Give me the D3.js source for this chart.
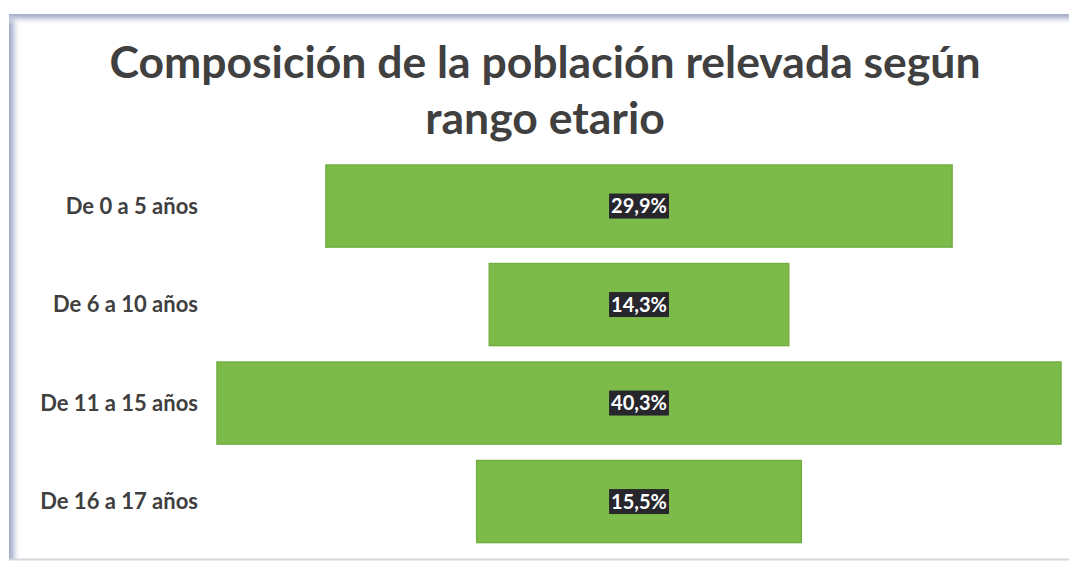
<!DOCTYPE html>
<html>
<head>
<meta charset="utf-8">
<script src="https://cdn.jsdelivr.net/npm/d3@7"></script>
<style>
  html, body { margin: 0; padding: 0; background: #fff; }
  svg { display: block; }
  text { font-family: Lato, "Open Sans", sans-serif; font-weight: 700; }
</style>
</head>
<body>
<svg id="chart" width="1069" height="562"></svg>
<script>
// Composición de la población relevada según rango etario

// -----------------------------------------------------------------------------
// DATA
// -----------------------------------------------------------------------------

const titleLines = ['Composición de la población relevada según', 'rango etario'];
const categories = ['De 0 a 5 años', 'De 6 a 10 años', 'De 11 a 15 años', 'De 16 a 17 años'];
const values = [29.9, 14.3, 40.3, 15.5];
const valueLabels = ['29,9%', '14,3%', '40,3%', '15,5%'];

// -----------------------------------------------------------------------------
// LAYOUT
// -----------------------------------------------------------------------------

const W = 1069, H = 562;
const centerX = 639;
const svg = d3.select('#chart');

const defs = svg.append('defs');
const gl = defs.append('linearGradient').attr('id', 'fadeLeft').attr('x1', 0).attr('x2', 1);
gl.append('stop').attr('offset', 0).attr('stop-color', '#a3aac8');
gl.append('stop').attr('offset', 0.3).attr('stop-color', '#bfc5da');
gl.append('stop').attr('offset', 1).attr('stop-color', '#ffffff').attr('stop-opacity', 0);
const gt = defs.append('linearGradient').attr('id', 'fadeTop').attr('x1', 0).attr('x2', 0).attr('y1', 0).attr('y2', 1);
gt.append('stop').attr('offset', 0).attr('stop-color', '#a3aac8');
gt.append('stop').attr('offset', 0.3).attr('stop-color', '#bfc5da');
gt.append('stop').attr('offset', 1).attr('stop-color', '#ffffff').attr('stop-opacity', 0);

// chart frame (shadowed border like the pasted image)
svg.append('rect').attr('x', 9).attr('y', 14).attr('width', 12).attr('height', H - 16).attr('fill', 'url(#fadeLeft)');
svg.append('rect').attr('x', 9).attr('y', 14).attr('width', W - 9).attr('height', 11).attr('fill', 'url(#fadeTop)');
svg.append('line').attr('x1', 9).attr('x2', W).attr('y1', 559.5).attr('y2', 559.5)
  .attr('stroke', '#d4d6de').attr('stroke-width', 2);

// title
svg.append('g').selectAll('text')
  .data(titleLines)
  .join('text')
  .attr('x', 545)
  .attr('y', (d, i) => 78 + i * 56)
  .attr('text-anchor', 'middle')
  .attr('fill', '#404040')
  .attr('font-size', 44.5)
  .text(d => d);

// -----------------------------------------------------------------------------
// SCALES
// -----------------------------------------------------------------------------

const y = d3.scaleBand()
  .domain(categories)
  .range([156.8, 550.8])
  .paddingInner(0.167)
  .paddingOuter(0.0835);

const w = d3.scaleLinear().domain([0, 40.3]).range([0, 844]);

// -----------------------------------------------------------------------------
// BARS (funnel, centred)
// -----------------------------------------------------------------------------

const rows = categories.map((c, i) => ({ cat: c, value: values[i], label: valueLabels[i] }));

svg.append('g').selectAll('rect')
  .data(rows)
  .join('rect')
  .attr('x', d => centerX - w(d.value) / 2)
  .attr('y', d => y(d.cat))
  .attr('width', d => w(d.value))
  .attr('height', y.bandwidth())
  .attr('fill', '#7cbb49')
  .attr('stroke', '#72ae40')
  .attr('stroke-width', 1.5);

// category axis labels
svg.append('g').selectAll('text')
  .data(rows)
  .join('text')
  .attr('x', 198)
  .attr('y', d => y(d.cat) + y.bandwidth() / 2)
  .attr('dy', '0.35em')
  .attr('text-anchor', 'end')
  .attr('fill', '#404040')
  .attr('font-size', 22)
  .text(d => d.cat);

// data labels with dark box
const lab = svg.append('g').selectAll('g')
  .data(rows)
  .join('g')
  .attr('transform', d => `translate(${centerX},${y(d.cat) + y.bandwidth() / 2})`);

lab.append('rect')
  .attr('fill', '#26262c');

const labText = lab.append('text')
  .attr('text-anchor', 'middle')
  .attr('dy', '0.36em')
  .attr('fill', '#ffffff')
  .attr('font-size', 20)
  .text(d => d.label);

labText.each(function() {
  const len = this.getComputedTextLength();
  d3.select(this.parentNode).select('rect')
    .attr('x', -len / 2 - 2).attr('y', -12.5)
    .attr('width', len + 4).attr('height', 25);
});
</script>
</body>
</html>
